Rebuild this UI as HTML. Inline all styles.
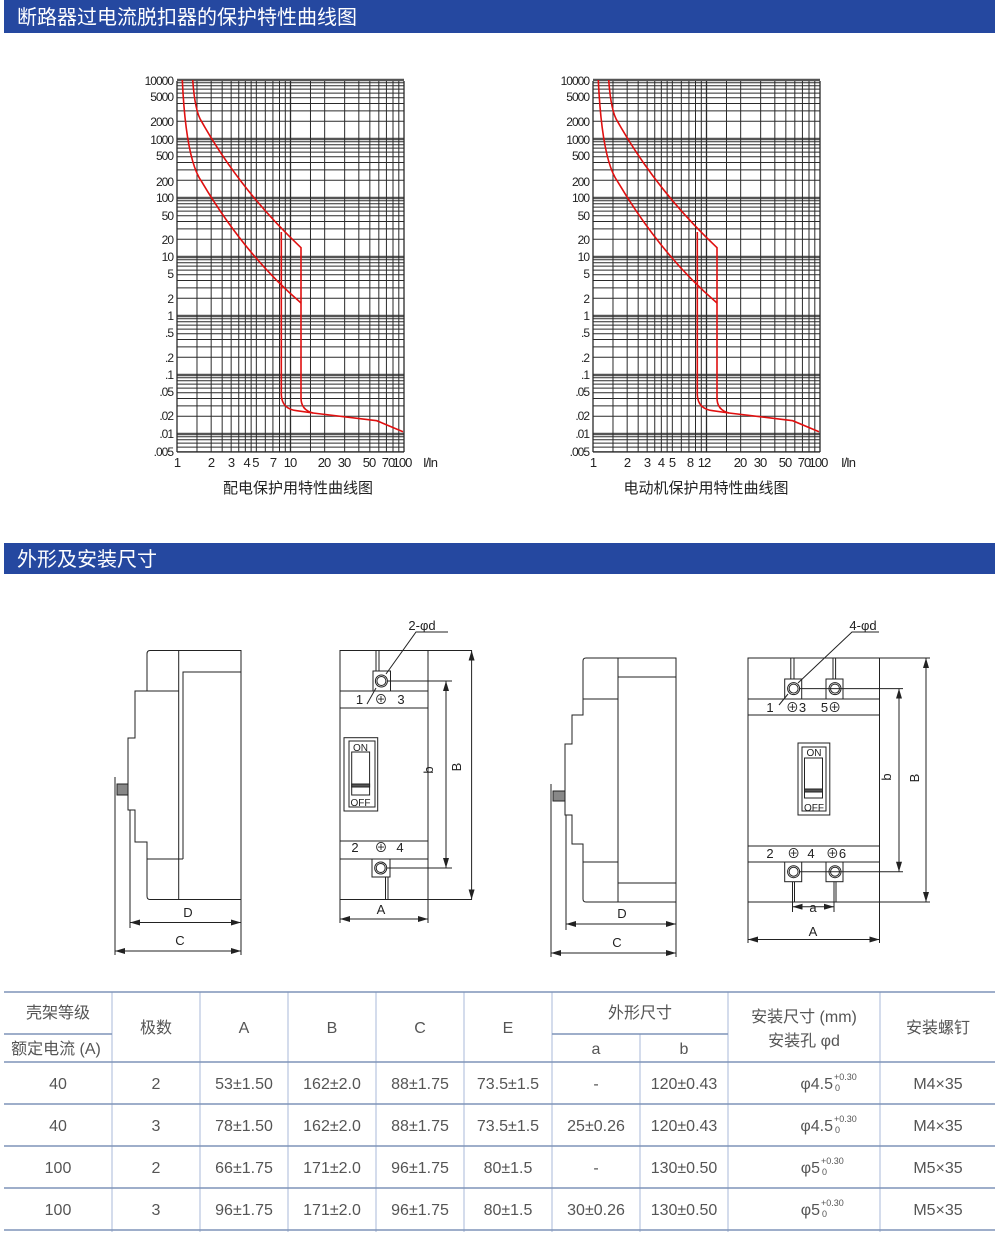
<!DOCTYPE html>
<html><head><meta charset="utf-8">
<style>
html,body{margin:0;padding:0;background:#fff;}
body{width:1000px;height:1232px;overflow:hidden;font-family:"Liberation Sans","Noto Sans CJK SC",sans-serif;}
svg text{font-family:"Liberation Sans","Noto Sans CJK SC",sans-serif;}
</style></head>
<body>
<svg id="s" width="1000" height="1232" viewBox="0 0 1000 1232" xmlns="http://www.w3.org/2000/svg">
<defs>
<marker id="ar" viewBox="0 0 10 6" refX="10" refY="3" markerWidth="10" markerHeight="6" orient="auto-start-reverse" markerUnits="userSpaceOnUse"><path d="M0,0 L10,3 L0,6 z" fill="#222"/></marker>
</defs>
<rect x="4" y="0" width="991" height="33" fill="#2548a0"/>
<text x="17" y="24" font-size="20" fill="#fff">断路器过电流脱扣器的保护特性曲线图</text>
<rect x="4" y="543" width="991" height="31" fill="#2548a0"/>
<text x="17" y="566" font-size="20" fill="#fff">外形及安装尺寸</text>

<g id="c1" stroke="#2a2a2a" stroke-width="1"></g>
<g id="c2" stroke="#2a2a2a" stroke-width="1" transform="translate(416,0)"></g>

<g font-size="12" fill="#222" text-anchor="end" letter-spacing="-1">
<text x="173" y="85">10000</text><text x="173" y="101">5000</text><text x="173" y="126">2000</text><text x="173" y="144">1000</text><text x="173" y="160">500</text><text x="173" y="186">200</text><text x="173" y="202">100</text><text x="173" y="220">50</text><text x="173" y="244">20</text><text x="173" y="261">10</text><text x="173" y="278">5</text><text x="173" y="303">2</text><text x="173" y="320">1</text><text x="173" y="337">.5</text><text x="173" y="362">.2</text><text x="173" y="379">.1</text><text x="173" y="396">.05</text><text x="173" y="420">.02</text><text x="173" y="438">.01</text><text x="173" y="456">.005</text>
</g>
<g font-size="12" fill="#222" text-anchor="end" letter-spacing="-1" transform="translate(416,0)">
<text x="173" y="85">10000</text><text x="173" y="101">5000</text><text x="173" y="126">2000</text><text x="173" y="144">1000</text><text x="173" y="160">500</text><text x="173" y="186">200</text><text x="173" y="202">100</text><text x="173" y="220">50</text><text x="173" y="244">20</text><text x="173" y="261">10</text><text x="173" y="278">5</text><text x="173" y="303">2</text><text x="173" y="320">1</text><text x="173" y="337">.5</text><text x="173" y="362">.2</text><text x="173" y="379">.1</text><text x="173" y="396">.05</text><text x="173" y="420">.02</text><text x="173" y="438">.01</text><text x="173" y="456">.005</text>
</g>
<g font-size="13" fill="#222" text-anchor="middle" letter-spacing="-1">
<text x="177" y="467">1</text><text x="211" y="467">2</text><text x="231" y="467">3</text><text x="251" y="467">4 5</text><text x="273" y="467">7</text><text x="290" y="467">10</text><text x="324" y="467">20</text><text x="344" y="467">30</text><text x="369" y="467">50</text><text x="388" y="467">70</text><text x="402" y="467">100</text>
<text x="430" y="467">I/In</text>
<text x="593" y="467">1</text><text x="627" y="467">2</text><text x="647" y="467">3</text><text x="661" y="467">4</text><text x="672" y="467">5</text><text x="690" y="467">8</text><text x="704" y="467">12</text><text x="740" y="467">20</text><text x="760" y="467">30</text><text x="785" y="467">50</text><text x="804" y="467">70</text><text x="818" y="467">100</text>
<text x="848" y="467">I/In</text>
</g>
<text x="298" y="493" font-size="15" fill="#222" text-anchor="middle">配电保护用特性曲线图</text>
<text x="706" y="493" font-size="15" fill="#222" text-anchor="middle">电动机保护用特性曲线图</text>

<g fill="none" stroke="#e01010" stroke-width="1.6">
<path d="M192.7,80 Q195,112 201.7,121.7 Q240,190 301,247.7 L301,398 Q301,410 313,413"/>
<path d="M182.3,80 Q186,160 201.7,181.7 Q245,255 301,303"/>
<path d="M281.3,232 L281.3,395 Q282,409 296.7,410.7 L313,413 L376.7,420.7 L403,431.7"/>
</g>
<g fill="none" stroke="#e01010" stroke-width="1.6" transform="translate(416,0)">
<path d="M192.7,80 Q195,112 201.7,121.7 Q240,190 301,247.7 L301,398 Q301,410 313,413"/>
<path d="M182.3,80 Q186,160 201.7,181.7 Q245,255 301,303"/>
<path d="M281.3,232 L281.3,395 Q282,409 296.7,410.7 L313,413 L376.7,420.7 L403,431.7"/>
</g>

<g fill="none" stroke="#222" stroke-width="1">
<path d="M150,650.5 L241,650.5 L241,899.5 L150,899.5 Q147,899.5 147,896 L147,842 L135,842 L135,810 L128,810 L128,738 L135,738 L135,691 L147,691 L147,654 Q147,650.5 150,650.5 Z"/>
<line x1="178.7" y1="650.5" x2="178.7" y2="899.5"/>
<path d="M241,672 L183,672 L183,859"/>
<line x1="147" y1="691" x2="178.7" y2="691"/>
<line x1="147" y1="859" x2="183" y2="859"/>
<rect x="117" y="784" width="11" height="11" fill="#888"/>
<line x1="115" y1="777" x2="115" y2="955"/>
<line x1="130" y1="810" x2="130" y2="928"/>
<line x1="241" y1="899.5" x2="241" y2="955"/>
<line x1="130" y1="922.5" x2="241" y2="922.5" marker-start="url(#ar)" marker-end="url(#ar)"/>
<line x1="115" y1="951" x2="241" y2="951" marker-start="url(#ar)" marker-end="url(#ar)"/>
</g>
<text x="188" y="917" font-size="13" text-anchor="middle" fill="#222">D</text>
<text x="180" y="945" font-size="13" text-anchor="middle" fill="#222">C</text>

<g fill="none" stroke="#222" stroke-width="1">
<rect x="340" y="650.5" width="88" height="249"/>
<line x1="340" y1="691" x2="428" y2="691"/><line x1="340" y1="708" x2="428" y2="708"/>
<line x1="340" y1="841" x2="428" y2="841"/><line x1="340" y1="859" x2="428" y2="859"/>
<rect x="373" y="671" width="17.5" height="20"/><circle cx="381.4" cy="681" r="6"/><circle cx="381.4" cy="681" r="4.5"/>
<line x1="376" y1="650.5" x2="376" y2="671"/><line x1="379" y1="650.5" x2="379" y2="671"/>
<rect x="372" y="859" width="18" height="18"/><circle cx="380.7" cy="868" r="6"/><circle cx="380.7" cy="868" r="4.5"/>
<line x1="385.5" y1="877" x2="385.5" y2="899.5"/><line x1="388" y1="877" x2="388" y2="899.5"/>
<rect x="344" y="737.7" width="33.7" height="73.3"/><rect x="349" y="741" width="26" height="66"/>
<rect x="351.7" y="752" width="17.9" height="43"/><rect x="351.7" y="784" width="17.9" height="3" fill="#555"/>
<line x1="428" y1="650.5" x2="472" y2="650.5"/><line x1="428" y1="899.5" x2="472" y2="899.5"/>
<line x1="471.6" y1="650.5" x2="471.6" y2="899.5" marker-start="url(#ar)" marker-end="url(#ar)"/>
<line x1="387" y1="681" x2="452" y2="681"/><line x1="387" y1="868" x2="452" y2="868"/>
<line x1="446" y1="681" x2="446" y2="868" marker-start="url(#ar)" marker-end="url(#ar)"/>
<line x1="340" y1="899.5" x2="340" y2="923"/><line x1="428" y1="899.5" x2="428" y2="923"/>
<line x1="340" y1="919" x2="428" y2="919" marker-start="url(#ar)" marker-end="url(#ar)"/>
<polyline points="448,632 416,632 386,674"/>
<line x1="376" y1="688" x2="367" y2="704"/>
</g>
<g fill="#222" text-anchor="middle">
<text x="359.5" y="704" font-size="13">1</text><text x="381" y="704" font-size="13">⊕</text><text x="401" y="704" font-size="13">3</text>
<text x="355" y="852" font-size="13">2</text><text x="381" y="852" font-size="13">⊕</text><text x="400" y="852" font-size="13">4</text>
<text x="360.5" y="751" font-size="10">ON</text><text x="360.5" y="806" font-size="10">OFF</text>
<text x="381" y="914" font-size="13">A</text>
<text x="422" y="630" font-size="13">2-φd</text>
<text transform="translate(433,770) rotate(-90)" font-size="13">b</text>
<text transform="translate(461,767) rotate(-90)" font-size="13">B</text>
</g>

<g fill="none" stroke="#222" stroke-width="1">
<path d="M586,658 L676,658 L676,902 L586,902 Q583,902 583,899 L583,844 L572,844 L572,815 L565,815 L565,744 L572,744 L572,715 L583,715 L583,699 L583,661 Q583,658 586,658 Z"/>
<line x1="618" y1="658" x2="618" y2="902"/>
<line x1="618" y1="677" x2="676" y2="677"/><line x1="618" y1="883" x2="676" y2="883"/>
<line x1="583" y1="699" x2="618" y2="699"/><line x1="583" y1="862" x2="618" y2="862"/>
<rect x="553" y="791" width="12" height="10" fill="#888"/>
<line x1="551" y1="784" x2="551" y2="957"/>
<line x1="566" y1="815" x2="566" y2="930"/>
<line x1="676" y1="902" x2="676" y2="957"/>
<line x1="566" y1="924" x2="676" y2="924" marker-start="url(#ar)" marker-end="url(#ar)"/>
<line x1="551" y1="953" x2="676" y2="953" marker-start="url(#ar)" marker-end="url(#ar)"/>
</g>
<text x="622" y="918" font-size="13" text-anchor="middle" fill="#222">D</text>
<text x="617" y="947" font-size="13" text-anchor="middle" fill="#222">C</text>

<g fill="none" stroke="#222" stroke-width="1">
<rect x="748" y="658" width="131.5" height="244"/>
<line x1="748" y1="699" x2="879.5" y2="699"/><line x1="748" y1="715" x2="879.5" y2="715"/>
<line x1="748" y1="846" x2="879.5" y2="846"/><line x1="748" y1="862" x2="879.5" y2="862"/>
<rect x="784.7" y="679" width="17" height="20"/><circle cx="793.6" cy="688.6" r="6"/><circle cx="793.6" cy="688.6" r="4.5"/>
<rect x="826" y="679" width="17" height="20"/><circle cx="835" cy="688.6" r="6"/><circle cx="835" cy="688.6" r="4.5"/>
<line x1="790.8" y1="658" x2="790.8" y2="679"/><line x1="794" y1="658" x2="794" y2="679"/>
<line x1="833" y1="658" x2="833" y2="679"/><line x1="835.6" y1="658" x2="835.6" y2="679"/>
<rect x="784.7" y="862" width="17" height="19.7"/><circle cx="793.6" cy="871.7" r="6"/><circle cx="793.6" cy="871.7" r="4.5"/>
<rect x="826" y="862" width="17" height="19.7"/><circle cx="835" cy="871.7" r="6"/><circle cx="835" cy="871.7" r="4.5"/>
<line x1="792.5" y1="881.7" x2="792.5" y2="912"/><line x1="794.5" y1="881.7" x2="794.5" y2="902"/>
<line x1="834" y1="881.7" x2="834" y2="912"/><line x1="836" y1="881.7" x2="836" y2="902"/>
<rect x="798" y="743" width="31.8" height="72"/><rect x="802" y="747" width="24" height="64"/>
<rect x="804.5" y="758" width="18" height="40"/><rect x="804.5" y="789" width="18" height="3" fill="#555"/>
<line x1="792.5" y1="906.7" x2="834" y2="906.7" marker-start="url(#ar)" marker-end="url(#ar)"/>
<line x1="748" y1="902" x2="748" y2="943"/><line x1="879.5" y1="902" x2="879.5" y2="943"/>
<line x1="748" y1="939.5" x2="879.5" y2="939.5" marker-start="url(#ar)" marker-end="url(#ar)"/>
<line x1="800" y1="688.6" x2="903" y2="688.6"/><line x1="800" y1="871.7" x2="903" y2="871.7"/>
<line x1="899" y1="688.6" x2="899" y2="871.7" marker-start="url(#ar)" marker-end="url(#ar)"/>
<line x1="879.5" y1="658" x2="930" y2="658"/><line x1="879.5" y1="902" x2="930" y2="902"/>
<line x1="926" y1="658" x2="926" y2="902" marker-start="url(#ar)" marker-end="url(#ar)"/>
<polyline points="879,632 852,632 798,683"/>
<line x1="788" y1="694" x2="779" y2="705"/>
</g>
<g fill="#222" text-anchor="middle">
<text x="770" y="712" font-size="13">1</text><text x="796" y="712" font-size="13">⊕3</text><text x="831" y="712" font-size="13">5⊕</text>
<text x="770" y="858" font-size="13">2</text><text x="793.6" y="858" font-size="13">⊕</text><text x="811" y="858" font-size="13">4</text><text x="836" y="858" font-size="13">⊕6</text>
<text x="814" y="756" font-size="10">ON</text><text x="814" y="811" font-size="10">OFF</text>
<text x="813" y="912" font-size="13">a</text>
<text x="813" y="936" font-size="13">A</text>
<text x="863" y="630" font-size="13">4-φd</text>
<text transform="translate(891,777) rotate(-90)" font-size="13">b</text>
<text transform="translate(919,778) rotate(-90)" font-size="13">B</text>
</g>

<g stroke="#a8bad8" stroke-width="1">
<line x1="112" y1="992" x2="112" y2="1232"/><line x1="200" y1="992" x2="200" y2="1232"/><line x1="288" y1="992" x2="288" y2="1232"/><line x1="376" y1="992" x2="376" y2="1232"/><line x1="464" y1="992" x2="464" y2="1232"/><line x1="552" y1="992" x2="552" y2="1232"/><line x1="640" y1="1034" x2="640" y2="1232"/><line x1="728" y1="992" x2="728" y2="1232"/><line x1="880" y1="992" x2="880" y2="1232"/>
</g>
<g stroke="#7f93b8" stroke-width="1.6">
<line x1="4" y1="992" x2="995" y2="992"/>
<line x1="4" y1="1034" x2="112" y2="1034"/><line x1="552" y1="1034" x2="728" y2="1034"/>
<line x1="4" y1="1062" x2="995" y2="1062"/><line x1="4" y1="1104" x2="995" y2="1104"/><line x1="4" y1="1146" x2="995" y2="1146"/><line x1="4" y1="1188" x2="995" y2="1188"/><line x1="4" y1="1230" x2="995" y2="1230"/>
</g>
<g font-size="16" fill="#555" text-anchor="middle">
<text x="58" y="1018">壳架等级</text><text x="56" y="1054">额定电流 (A)</text>
<text x="156" y="1033">极数</text><text x="244" y="1033">A</text><text x="332" y="1033">B</text><text x="420" y="1033">C</text><text x="508" y="1033">E</text>
<text x="640" y="1018">外形尺寸</text><text x="596" y="1054">a</text><text x="684" y="1054">b</text>
<text x="804" y="1022">安装尺寸 (mm)</text><text x="804" y="1046">安装孔 φd</text><text x="938" y="1033">安装螺钉</text>
<text x="58" y="1089">40</text><text x="156" y="1089">2</text><text x="244" y="1089">53±1.50</text><text x="332" y="1089">162±2.0</text><text x="420" y="1089">88±1.75</text><text x="508" y="1089">73.5±1.5</text><text x="596" y="1089">-</text><text x="684" y="1089">120±0.43</text><text x="938" y="1089">M4×35</text>
<text x="58" y="1131">40</text><text x="156" y="1131">3</text><text x="244" y="1131">78±1.50</text><text x="332" y="1131">162±2.0</text><text x="420" y="1131">88±1.75</text><text x="508" y="1131">73.5±1.5</text><text x="596" y="1131">25±0.26</text><text x="684" y="1131">120±0.43</text><text x="938" y="1131">M4×35</text>
<text x="58" y="1173">100</text><text x="156" y="1173">2</text><text x="244" y="1173">66±1.75</text><text x="332" y="1173">171±2.0</text><text x="420" y="1173">96±1.75</text><text x="508" y="1173">80±1.5</text><text x="596" y="1173">-</text><text x="684" y="1173">130±0.50</text><text x="938" y="1173">M5×35</text>
<text x="58" y="1215">100</text><text x="156" y="1215">3</text><text x="244" y="1215">96±1.75</text><text x="332" y="1215">171±2.0</text><text x="420" y="1215">96±1.75</text><text x="508" y="1215">80±1.5</text><text x="596" y="1215">30±0.26</text><text x="684" y="1215">130±0.50</text><text x="938" y="1215">M5×35</text>
</g>
<g fill="#555" text-anchor="end">
<text x="833" y="1089" font-size="16">φ4.5</text><text x="833" y="1131" font-size="16">φ4.5</text>
<text x="820" y="1173" font-size="16">φ5</text><text x="820" y="1215" font-size="16">φ5</text>
</g>
<g fill="#555" font-size="9">
<text x="834" y="1080">+0.30</text><text x="835" y="1091">0</text>
<text x="834" y="1122">+0.30</text><text x="835" y="1133">0</text>
<text x="821" y="1164">+0.30</text><text x="822" y="1175">0</text>
<text x="821" y="1206">+0.30</text><text x="822" y="1217">0</text>
</g>
</svg>
<script>
(function(){
var NS="http://www.w3.org/2000/svg";
var x0=177,dx=113.5,yTop=81,yBot=452,yOne=316,dy=59;
function X(v){return x0+Math.log10(v)*dx;}
function Y(v){return yOne-Math.log10(v)*dy;}
function ln(g,a,b,c,d,w,col){var l=document.createElementNS(NS,"line");l.setAttribute("x1",a);l.setAttribute("y1",b);l.setAttribute("x2",c);l.setAttribute("y2",d);if(w)l.setAttribute("stroke-width",w);if(col)l.setAttribute("stroke",col);g.appendChild(l);}
var xs=[1,1.5,2,2.5,3,3.5,4,4.5,5,6,7,8,9,10,15,20,30,40,50,60,70,80,90,100];
["c1","c2"].forEach(function(id){
var g=document.getElementById(id);
for(var e=-3;e<=4;e++){
 for(var m=1;m<=9;m++){
  var v=m*Math.pow(10,e);
  if(v<0.005||v>10000)continue;
  var y=Y(v);
  ln(g,x0,y,X(100),y,m==1?2.4:1,m==1?"#555":null);
 }
}
ln(g,x0,yBot,X(100),yBot,1.2);
xs.forEach(function(v){var x=X(v);ln(g,x,yTop,x,yBot,v==1||v==10||v==100?1.3:1);});
});
})();
</script>
</body></html>
